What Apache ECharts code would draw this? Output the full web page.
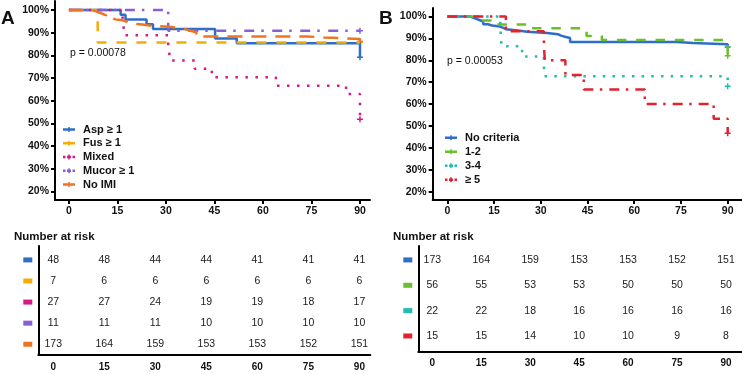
<!DOCTYPE html>
<html>
<head>
<meta charset="utf-8">
<script src="https://cdn.jsdelivr.net/npm/echarts@6/dist/echarts.min.js"></script>
<style>
  html, body { margin: 0; padding: 0; background: #fff; }
  #chart { width: 742px; height: 374px; }
</style>
</head>
<body>
<div id="chart"></div>
<script>
const FONT = '"Liberation Sans", Arial, sans-serif';

// x ticks / number-at-risk time points (days)
const riskDays = [0, 15, 30, 45, 60, 75, 90];
const pctTicks = [20, 30, 40, 50, 60, 70, 80, 90, 100];

// ---- panel A: survival curves, [day, survival %] ----
const asp = [[0, 100], [16, 97.9], [17.5, 95.8], [24, 93.8], [26, 91.7], [45.2, 87.5], [51.9, 85.4], [90, 79.2]];
const fus = [[0, 100], [8.9, 85.7], [90, 85.7]];
const mixed = [[0, 100], [16.6, 96.3], [16.9, 92.6], [17.2, 88.9], [30.7, 85.2], [31, 81.5], [31.3, 77.8],
  [38.9, 74.1], [44.2, 70.4], [64, 66.7], [85.7, 63.0], [90, 51.9]];
const mucor = [[0, 100], [30.7, 90.9], [90, 90.9]];
const noImi = [[0, 100], [7.3, 99.4], [8.5, 98.8], [9.5, 98.3], [10.5, 97.7], [11.5, 96.5], [13, 95.9],
  [14.4, 95.4], [16.9, 94.8], [18, 94.2], [18.8, 93.6], [22.7, 93.1], [25.6, 92.5], [32, 91.9],
  [35.5, 91.3], [36.5, 90.8], [37.8, 90.2], [39.4, 88.4], [73.7, 87.9], [78.9, 87.3], [90, 86.1]];

// ---- panel B ----
const noCriteria = noImi; // same 173 patients
const crit12 = [[0, 100], [9.5, 98.2], [16, 96.4], [26.6, 94.6], [44.7, 91.1], [49.6, 89.3], [90, 82.1]];
const crit34 = [[0, 100], [17, 95.5], [17.2, 90.9], [17.4, 86.4], [24, 81.8], [31, 77.3], [31.2, 72.7], [90, 68.2]];
const crit5 = [[0, 100], [18.8, 93.3], [31, 86.7], [31.3, 80], [37.9, 73.3], [43.8, 66.7], [63.4, 60],
  [85.5, 53.3], [90, 46.7]];

// ---- number at risk ----
const riskA = [
  [48, 48, 44, 44, 41, 41, 41],
  [7, 6, 6, 6, 6, 6, 6],
  [27, 27, 24, 19, 19, 18, 17],
  [11, 11, 11, 10, 10, 10, 10],
  [173, 164, 159, 153, 153, 152, 151]
];
const riskB = [
  [173, 164, 159, 153, 153, 152, 151],
  [56, 55, 53, 53, 50, 50, 50],
  [22, 22, 18, 16, 16, 16, 16],
  [15, 15, 14, 10, 10, 9, 8]
];

const namesA = ['Asp \u2265 1', 'Fus \u2265 1', 'Mixed', 'Mucor \u2265 1', 'No IMI'];
const namesB = ['No criteria', '1-2', '3-4', '\u2265 5'];
const colorsA = ['#2f6ec6', '#f4ac06', '#d51a86', '#8a5fd6', '#ee7424'];
const colorsB = ['#2f6ec6', '#69bf2c', '#20bdb0', '#e0232f'];
const curvesA = [asp, fus, mixed, mucor, noImi];
const curvesB = [noCriteria, crit12, crit34, crit5];
const dashesA = ['solid', [10, 10], [2.5, 7.5], [10, 7, 2.5, 8.5], [15, 9]];
const dashesB = ['solid', [9.5, 9.8], [2.5, 7.2], [10, 6.5, 2.5, 7]];

const PLUS = 'path://M3,0H5V3H8V5H5V8H3V5H0V3H3Z';
// legend keys: short line with a censor tick, solid or dotted
const KEY_SOLID = 'path://M0,1.25H5.25V0H6.75V1.25H12V3.75H6.75V5H5.25V3.75H0Z';
const KEY_DOT = 'path://M0,1.25H2.5V3.75H0Z M4,1.25H5.25V0H6.75V1.25H8V3.75H6.75V5H5.25V3.75H4Z M9.5,1.25H12V3.75H9.5Z';
const keysA = [KEY_SOLID, KEY_SOLID, KEY_DOT, KEY_DOT, KEY_SOLID];
const keysB = [KEY_SOLID, KEY_SOLID, KEY_DOT, KEY_DOT];

function kmSeries(names, curves, colors, dashes, idx) {
  const out = [];
  names.forEach((n, i) => {
    out.push({
      name: n, type: 'line', step: 'end', xAxisIndex: idx, yAxisIndex: idx,
      data: curves[i], symbol: 'none', silent: true,
      lineStyle: { color: colors[i], width: 2.5, type: dashes[i] },
      itemStyle: { color: colors[i] }
    });
    const last = curves[i][curves[i].length - 1];
    out.push({
      name: n + ' censor', type: 'scatter', xAxisIndex: idx, yAxisIndex: idx,
      data: [last], symbol: PLUS, symbolSize: 6, silent: true,
      itemStyle: { color: colors[i], opacity: 1 }
    });
  });
  return out;
}

function riskSeries(risk, idx) {
  const data = [];
  risk.forEach((row, r) => row.forEach((v, j) => data.push([riskDays[j], r, v])));
  return {
    type: 'scatter', xAxisIndex: idx, yAxisIndex: idx, data, symbolSize: 1, silent: true,
    itemStyle: { color: 'rgba(0,0,0,0)', opacity: 1 },
    label: {
      show: true, position: 'inside', formatter: p => p.value[2], opacity: 1,
      fontFamily: FONT, fontSize: 10.5, color: '#1a1a1a', textBorderWidth: 0
    }
  };
}

const axisLine = { show: true, onZero: false, lineStyle: { color: '#000', width: 2 } };
const tickLabel = { fontFamily: FONT, fontWeight: 'bold', fontSize: 10.5, color: '#111' };

function kmX(idx, min, max) {
  return {
    gridIndex: idx, type: 'value', min, max, axisLine,
    axisTick: { show: true, length: 4, lineStyle: { width: 2, color: '#000' }, customValues: riskDays },
    axisLabel: { ...tickLabel, margin: 6, customValues: riskDays },
    splitLine: { show: false }
  };
}
function kmY(idx, min, max) {
  return {
    gridIndex: idx, type: 'value', min, max, axisLine,
    axisTick: { show: true, length: 4, lineStyle: { width: 2, color: '#000' }, customValues: pctTicks },
    axisLabel: { ...tickLabel, margin: 6, customValues: pctTicks, formatter: v => v + '%' },
    splitLine: { show: false }
  };
}
function tableX(idx, min, max) {
  return {
    gridIndex: idx, type: 'value', min, max, axisLine,
    axisTick: { show: false },
    axisLabel: { ...tickLabel, fontSize: 10, margin: 7, customValues: riskDays },
    splitLine: { show: false }
  };
}
function tableY(idx, min, max, colors) {
  const rich = {};
  colors.forEach((c, i) => { rich['r' + i] = { width: 9, height: 5, backgroundColor: c }; });
  return {
    gridIndex: idx, type: 'value', inverse: true, min, max, axisLine,
    axisTick: { show: false },
    axisLabel: {
      margin: 6, customValues: colors.map((c, i) => i),
      formatter: v => '{r' + v + '|}', rich
    },
    splitLine: { show: false }
  };
}

const legendBase = {
  orient: 'vertical', itemWidth: 12, itemHeight: 5, selectedMode: false, padding: 0,
  textStyle: { fontFamily: FONT, fontWeight: 'bold', fontSize: 11, color: '#111', lineHeight: 10, padding: [0, 0, 0, 3] }
};

function txt(x, y, text, font) {
  return { type: 'text', x, y, silent: true,
    style: { text, font, fill: '#111', align: 'left', verticalAlign: 'middle' } };
}

const chart = echarts.init(document.getElementById('chart'), null, { renderer: 'canvas' });
chart.setOption({
  animation: false,
  backgroundColor: '#fff',
  grid: [
    { left: 55, top: 1, width: 315, height: 199 },
    { left: 432.7, top: 8, width: 309, height: 192 },
    { left: 38.3, top: 246, width: 332, height: 109 },
    { left: 418.3, top: 246, width: 323.7, height: 105.7 }
  ],
  xAxis: [kmX(0, -4.3, 93.1), kmX(1, -4.7, 94.5), tableX(2, -4.4, 93.2), tableX(3, -4.29, 94.9)],
  yAxis: [kmY(0, 16.3, 104), kmY(1, 16.2, 103.9), tableY(2, -0.66, 4.51, colorsA), tableY(3, -0.55, 3.62, colorsB)],
  legend: [
    { ...legendBase, left: 63, top: 124, itemGap: 2.75,
      data: namesA.map((n, i) => ({ name: n, icon: keysA[i], itemStyle: { color: colorsA[i] } })) },
    { ...legendBase, left: 445, top: 132.3, itemGap: 3,
      data: namesB.map((n, i) => ({ name: n, icon: keysB[i], itemStyle: { color: colorsB[i] } })) }
  ],
  graphic: [
    txt(1, 18.5, 'A', 'bold 19px ' + FONT),
    txt(379, 18.8, 'B', 'bold 19px ' + FONT),
    txt(70, 53.3, 'p = 0.00078', '10.5px ' + FONT),
    txt(447, 60.7, 'p = 0.00053', '10.5px ' + FONT),
    txt(14, 237, 'Number at risk', 'bold 11.5px ' + FONT),
    txt(393, 236.7, 'Number at risk', 'bold 11.5px ' + FONT)
  ],
  series: [
    ...kmSeries(namesA, curvesA, colorsA, dashesA, 0),
    ...kmSeries(namesB, curvesB, colorsB, dashesB, 1),
    riskSeries(riskA, 2),
    riskSeries(riskB, 3)
  ]
});
</script>
</body>
</html>
